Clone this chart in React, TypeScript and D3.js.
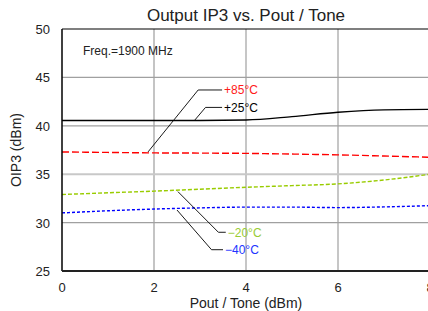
import React from "react";
import * as d3 from "d3";

const pout = [0, 1, 2, 3, 4, 5, 6, 7, 8];
const t85 = [37.3, 37.25, 37.2, 37.18, 37.15, 37.08, 37.0, 36.88, 36.75];
const t25 = [40.55, 40.55, 40.55, 40.55, 40.6, 40.95, 41.4, 41.65, 41.7];
const tm20 = [32.9, 33.08, 33.25, 33.45, 33.65, 33.82, 34.0, 34.4, 35.0];
const tm40 = [31.0, 31.22, 31.4, 31.52, 31.6, 31.6, 31.55, 31.62, 31.75];
const xTicks = [0, 2, 4, 6, 8];
const yTicks = [25, 30, 35, 40, 45, 50];

const seriesNames = ["+85°C", "+25°C", "−20°C", "−40°C"];
const seriesData = [t85, t25, tm20, tm40];
const seriesColors = ["#ff0000", "#000000", "#99cc00", "#0000ff"];
const labelColors = ["#ff1a1a", "#000000", "#99cc33", "#2233ff"];
const dashes = ["7,3", null, "4,2", "3,2"];
// annotation: [anchorX, anchorY, elbowX, elbowY, endX]
const annotations = [
  [1.87, 37.3, 2.96, 43.7, 3.48],
  [2.88, 40.55, 3.12, 41.9, 3.48],
  [2.52, 33.2, 3.4, 29.0, 3.56],
  [2.5, 31.3, 3.25, 27.2, 3.5],
];

export default function App() {
  const W = 428, H = 311;
  const x = d3.scaleLinear().domain([0, 8]).range([62, 430]);
  const y = d3.scaleLinear().domain([25, 50]).range([271, 29]);
  const line = d3
    .line<number>()
    .x((_, i) => x(pout[i]))
    .y((d) => y(d))
    .curve(d3.curveMonotoneX);
  const font = "'Liberation Sans', Arial, sans-serif";
  return (
    <svg width={W} height={H} style={{ position: "absolute", left: 0, top: 0 }} fontFamily={font}>
      <rect width={W} height={H} fill="#fff" />
      {xTicks.slice(1, -1).map((t) => (
        <line key={"vx" + t} x1={x(t)} x2={x(t)} y1={y(50)} y2={y(25)} stroke={t === 2 ? "#c4c4c4" : "#a0a0a0"} strokeWidth={t === 2 ? 2 : 1.2} />
      ))}
      {yTicks.slice(1, -1).map((t) => (
        <line key={"hy" + t} x1={x(0)} x2={x(8)} y1={y(t)} y2={y(t)} stroke={t === 35 ? "#c8c8c8" : "#a0a0a0"} strokeWidth={t === 35 ? 2 : 1.2} />
      ))}
      <line x1={x(0)} x2={x(8)} y1={y(50)} y2={y(50)} stroke="#000" strokeWidth={1.2} />
      {seriesData.map((d, i) => (
        <path key={i} d={line(d) || ""} fill="none" stroke={seriesColors[i]} strokeWidth={1.4} strokeDasharray={dashes[i] || undefined} />
      ))}
      <line x1={x(0)} x2={x(0)} y1={y(50)} y2={y(25)} stroke="#000" strokeWidth={1.5} />
      <line x1={x(0)} x2={x(8)} y1={y(25)} y2={y(25)} stroke="#222" strokeWidth={2.2} />
      {annotations.map((a, i) => (
        <g key={"a" + i}>
          <polyline points={`${x(a[0])},${y(a[1])} ${x(a[2])},${y(a[3])} ${x(a[4])},${y(a[3])}`} fill="none" stroke="#000" strokeWidth={0.9} />
          <text x={x(a[4]) + 2} y={y(a[3]) + 4.5} fontSize={12} fill={labelColors[i]}>{seriesNames[i]}</text>
        </g>
      ))}
      {yTicks.map((t) => (
        <text key={"yt" + t} x={50} y={y(t) + 5} fontSize={13} textAnchor="end" fill="#222">{t}</text>
      ))}
      {xTicks.map((t) => (
        <text key={"xt" + t} x={x(t)} y={292} fontSize={13} textAnchor="middle" fill="#222">{t}</text>
      ))}
      <text x={246} y={308} fontSize={14} textAnchor="middle" fill="#222">Pout / Tone (dBm)</text>
      <text transform="translate(21,150) rotate(-90)" fontSize={14} textAnchor="middle" fill="#222">OIP3 (dBm)</text>
      <text x={246} y={21} fontSize={17} textAnchor="middle" fill="#222">Output IP3 vs. Pout / Tone</text>
      <text x={83} y={55} fontSize={12} fill="#222">Freq.=1900 MHz</text>
    </svg>
  );
}
